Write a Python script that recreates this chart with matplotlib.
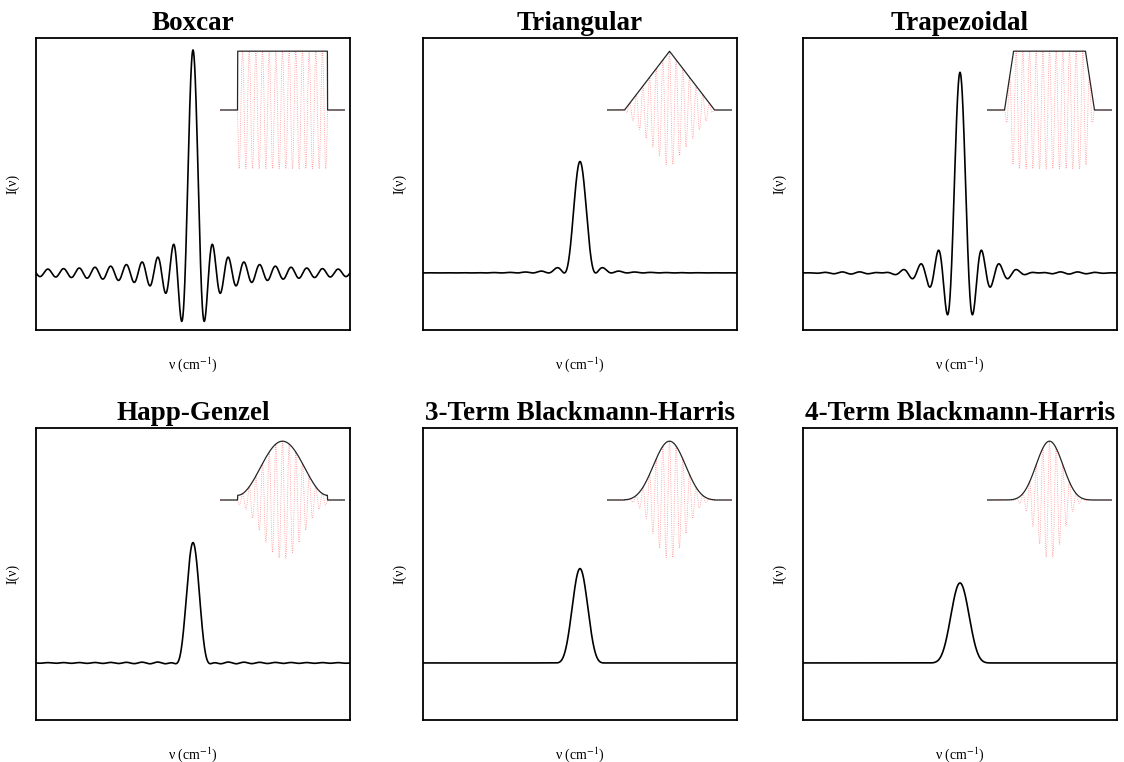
import numpy as np
import matplotlib
matplotlib.use('Agg')
import matplotlib.pyplot as plt

plt.rcParams['font.family'] = ['Liberation Serif', 'DejaVu Serif']
plt.rcParams['mathtext.fontset'] = 'stix'

# apodization windows, in reading order
names = ['Boxcar', 'Triangular', 'Trapezoidal',
         'Happ-Genzel', '3-Term Blackmann-Harris', '4-Term Blackmann-Harris']
plateau = 0.8                         # flat fraction of the trapezoid
hg_coef = [0.54, 0.46]                # Happ-Genzel
bh3_coef = [0.42323, 0.49755, 0.07922]
bh4_coef = [0.35875, 0.48829, 0.14128, 0.01168]
n_cycles = 6.75                       # fringes per unit path difference in the insets


def window(name, x):
    a = np.abs(x)
    inside = (a <= 1).astype(float)
    if name == 'Boxcar':
        w = np.ones_like(x)
    elif name == 'Triangular':
        w = 1 - a
    elif name == 'Trapezoidal':
        w = np.clip((1 - a) / (1 - plateau), 0, 1)
    elif name == 'Happ-Genzel':
        w = hg_coef[0] + hg_coef[1] * np.cos(np.pi * x)
    else:
        c = bh3_coef if name.startswith('3') else bh4_coef
        w = sum(ck * np.cos(k * np.pi * x) for k, ck in enumerate(c))
    return w * inside


# instrument line shape = cosine transform of the window (boxcar -> sinc)
xs = np.linspace(-1, 1, 4001)
dx = xs[1] - xs[0]
u = np.linspace(-20, 20, 1600)

W, H = 1124, 762
fig = plt.figure(figsize=(W / 100, H / 100), dpi=100)
lefts = [36, 423, 803]
tops = [38, 428]
aw, ah = 314, 292

for i, name in enumerate(names):
    l = lefts[i % 3]
    t = tops[i // 3]
    ax = fig.add_axes([l / W, (H - t - ah) / H, aw / W, ah / H])
    wx = window(name, xs)
    ils = (np.cos(np.pi * np.outer(u, xs)) * wx).sum(axis=1) * dx / 2
    ax.plot(u, ils, color='black', lw=1.2)
    ax.set_xlim(u[0], u[-1])
    ax.set_ylim(-0.256, 1.054)
    ax.set_xticks([])
    ax.set_yticks([])
    for s in ax.spines.values():
        s.set_linewidth(1.3)
    ax.set_title(name, fontsize=19.5, fontweight='bold', pad=6)
    ax.set_xlabel(r'ν (cm$^{-1}$)', fontsize=10, labelpad=18)
    ax.set_ylabel('I(ν)', fontsize=10, labelpad=12)

    # inset: window and the apodized interferogram
    ins = fig.add_axes([(l + 184) / W, (H - t - 132) / H, 125 / W, 120 / H])
    xi = np.linspace(-1.39, 1.39, 1200)
    wi = window(name, xi)
    ins.plot(xi, wi * np.cos(2 * np.pi * n_cycles * xi), color='red', lw=0.6,
             ls=':', alpha=0.45)
    ins.plot(xi, wi, color='black', lw=0.9, alpha=0.85)
    ins.set_xlim(-1.39, 1.39)
    ins.set_ylim(-1.02, 1.02)
    ins.axis('off')

fig.savefig('out.png', dpi=100)
